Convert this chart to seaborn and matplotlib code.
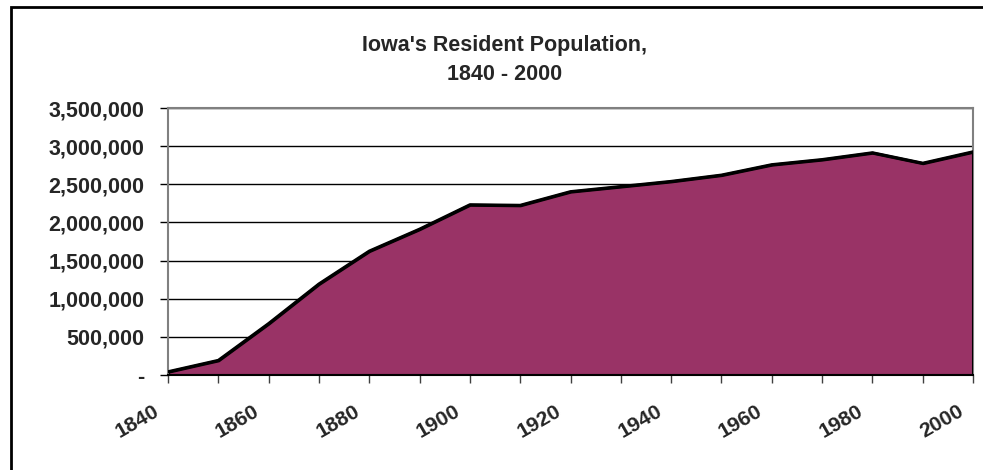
import numpy as np
import pandas as pd
import seaborn as sns
import matplotlib.pyplot as plt
import matplotlib.transforms as mtransforms
from matplotlib.patches import Rectangle
from matplotlib.ticker import FuncFormatter, MultipleLocator

sns.set_style("white")
plt.rcParams['font.family'] = ['Liberation Sans', 'DejaVu Sans']

# census years and Iowa population
years = [1840, 1850, 1860, 1870, 1880, 1890, 1900, 1910, 1920,
         1930, 1940, 1950, 1960, 1970, 1980, 1990, 2000]
population = [43112, 192214, 674913, 1194020, 1624615, 1912297, 2231853,
              2224771, 2404021, 2470939, 2538268, 2621073, 2757537,
              2824376, 2913808, 2776755, 2926324]
year_labels = [1840, 1860, 1880, 1900, 1920, 1940, 1960, 1980, 2000]

df = pd.DataFrame({"year": years, "population": population})

fig = plt.figure(figsize=(9.83, 4.7), dpi=100)
ax = fig.add_axes([0.1709, 0.2021, 0.819, 0.5681])

# outer frame of the chart
fig.patches.append(Rectangle((11/983, -0.1), 1.2, (470-7)/470 + 0.1,
                             transform=fig.transFigure, fill=False,
                             edgecolor="black", linewidth=2, zorder=0))

ax.fill_between(df["year"], df["population"], 0, color="#993366",
                edgecolor="black", linewidth=2.2, zorder=2)
sns.lineplot(data=df, x="year", y="population", ax=ax, color="black",
             linewidth=2.2, zorder=3)
ax.vlines(2000, 0, population[-1], color="black", linewidth=2.2, zorder=3)

ax.set_xlim(1840, 2000)
ax.set_ylim(0, 3500000)
ax.yaxis.set_major_locator(MultipleLocator(500000))
ax.yaxis.set_major_formatter(FuncFormatter(lambda v, p: f"{v:,.0f}" if v else "-"))
ax.set_xticks(years, minor=False)
ax.set_xticklabels([str(y) if y in year_labels else "" for y in years],
                   rotation=30, ha="right", va="top")
ax.grid(axis="y", color="black", linewidth=1, zorder=1)
ax.set_axisbelow(True)

for s in ax.spines.values():
    s.set_color("#808080")
    s.set_linewidth(1.5)
ax.spines["bottom"].set_color("black")

ax.tick_params(axis="y", left=True, length=6, width=1, color="black",
               labelsize=15.5, pad=11)
ax.tick_params(axis="x", bottom=True, length=6, width=1, color="#404040",
               labelsize=15.2, pad=13)

# shift the slanted year labels a bit to the left of their ticks
shift = mtransforms.ScaledTranslation(-0.06, 0, fig.dpi_scale_trans)
for lab in ax.get_xticklabels():
    lab.set_transform(lab.get_transform() + shift)
for lab in ax.get_xticklabels() + ax.get_yticklabels():
    lab.set_fontweight("bold")

ax.set_xlabel("")
ax.set_ylabel("")

fig.text(505/983, 1 - 46/470, "Iowa's Resident Population,",
         ha="center", va="center", fontsize=15.5, fontweight="bold")
fig.text(505/983, 1 - 75/470, "1840 - 2000",
         ha="center", va="center", fontsize=15.5, fontweight="bold")

fig.savefig("out.png", dpi=100)
